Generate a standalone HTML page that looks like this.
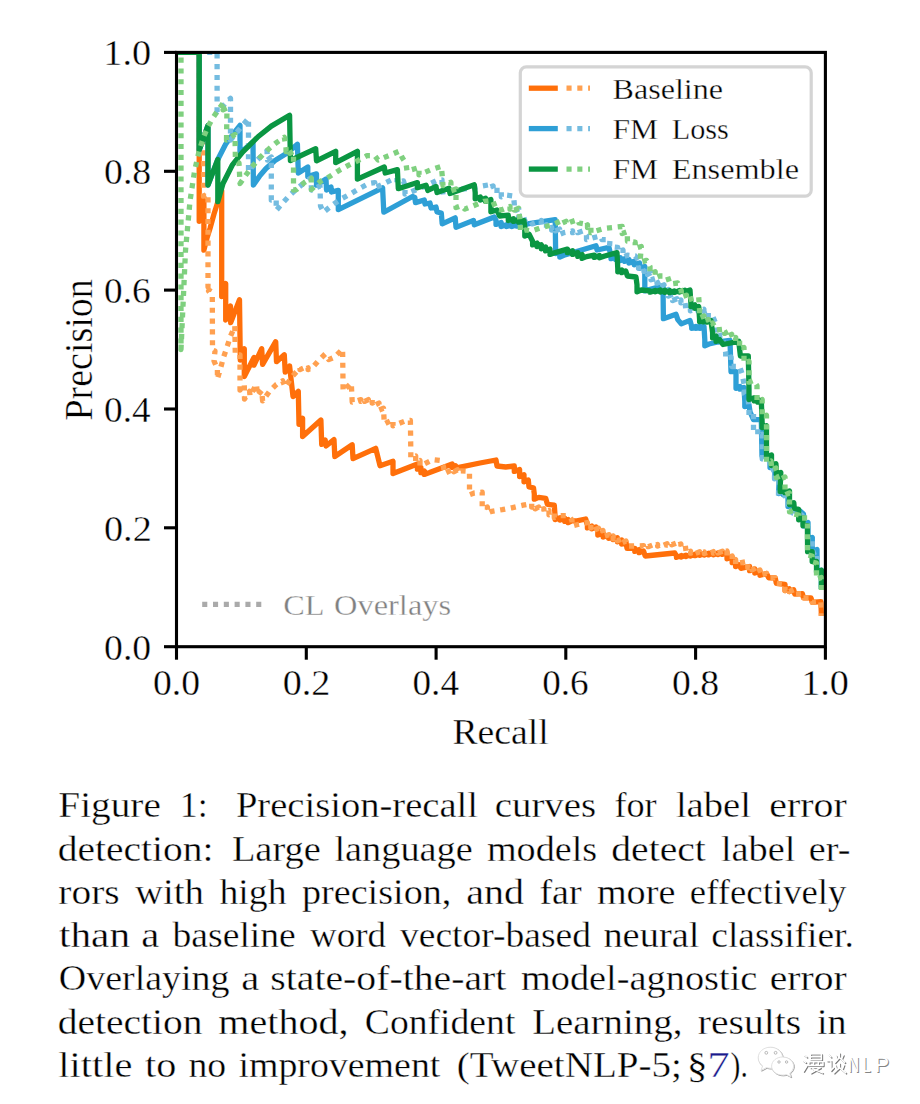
<!DOCTYPE html>
<html><head><meta charset="utf-8"><title>Figure 1</title>
<style>
html,body{margin:0;padding:0;background:#fff;}
body{width:920px;height:1104px;overflow:hidden;font-family:"Liberation Serif",serif;}
svg{display:block;}
svg text{font-family:"Liberation Serif",serif;stroke:#fff;stroke-width:0.35px;}
svg text.ss{font-family:"Liberation Sans",sans-serif;stroke:none;}
</style></head>
<body>
<svg width="920" height="1104" viewBox="0 0 920 1104">
<rect width="920" height="1104" fill="#fff"/>
<defs><clipPath id="ax"><rect x="176.5" y="52.4" width="648.9" height="594.3000000000001"/></clipPath></defs>
<g clip-path="url(#ax)" fill="none" stroke-width="5.3" stroke-linejoin="round" stroke-linecap="butt">
<path d="M176.5,52.4 L199.2,52.4 L199.2,221.3 L203.9,200.4 L203.9,250.2 L207.0,238.0 L210.0,228.5 L214.0,214.0 L217.8,202.0 L221.7,190.5 L221.7,296.5 L225.7,283.5 L225.7,320.0 L230.5,306.0 L230.7,322.6 L239.5,299.8 L240.3,360.0 L244.3,348.7 L244.3,376.5 L254.0,357.4 L254.0,365.2 L261.7,348.7 L262.6,364.3 L275.7,341.7 L276.5,361.7 L284.3,354.8 L285.2,372.2 L289.6,366.0 L293.0,396.5 L298.3,391.3 L299.0,424.3 L302.6,418.3 L302.6,436.5 L320.9,420.0 L321.7,444.3 L325.2,440.0 L326.0,446.0 L334.0,439.6 L334.8,456.5 L352.2,444.8 L353.0,458.7 L375.7,448.3 L377.4,455.2 L380.0,465.7 L393.0,461.3 L393.0,473.5 L417.4,464.0 L417.4,469.2 L420.9,467.4 L420.9,472.7 L424.3,470.9 L424.3,474.4 L429.6,472.6 L452.2,464.0 L452.2,467.5 L455.6,465.7 L455.6,469.2 L459.0,467.4 L480.0,463.0 L496.0,460.0 L497.0,466.0 L505.7,467.0 L514.3,466.0 L514.3,471.4 L519.6,469.6 L519.6,476.6 L524.0,474.8 L524.0,481.8 L528.3,480.0 L529.0,487.0 L533.5,487.8 L534.3,494.0 L534.3,499.2 L538.7,497.4 L545.7,498.3 L547.4,504.3 L554.3,505.2 L555.2,517.4 L555.2,519.6 L560.0,517.8 L560.0,520.1 L564.8,518.3 L564.8,521.4 L568.2,519.6 L568.2,522.7 L571.7,520.9 L577.0,520.9 L585.7,519.0 L587.4,525.2 L587.4,527.9 L591.7,526.1 L591.7,528.8 L596.0,527.0 L597.8,531.3 L597.8,535.0 L603.2,533.2 L603.2,537.0 L608.7,535.2 L608.7,538.3 L613.0,536.5 L613.0,539.6 L617.4,537.8 L617.4,541.8 L621.7,540.0 L621.7,544.0 L626.0,542.2 L627.0,548.3 L634.8,548.3 L634.8,551.4 L639.1,549.6 L639.1,552.7 L643.5,550.9 L645.2,556.0 L674.8,553.0 L676.5,556.0 L676.5,557.4 L681.1,555.6 L681.1,557.0 L685.8,555.2 L685.8,556.6 L690.4,554.8 L690.4,556.1 L695.0,554.3 L695.0,555.7 L699.7,553.9 L699.7,555.3 L704.3,553.5 L704.3,555.1 L708.8,553.3 L708.8,554.9 L713.4,553.1 L713.4,554.8 L717.9,553.0 L717.9,554.6 L722.5,552.8 L722.5,554.4 L727.0,552.6 L727.0,558.8 L732.2,557.0 L732.2,562.7 L735.6,560.9 L735.6,566.6 L739.0,564.8 L740.9,568.3 L749.6,566.5 L749.6,570.7 L754.8,568.9 L754.8,573.1 L760.0,571.3 L760.0,575.3 L766.5,573.5 L768.7,577.8 L775.2,577.8 L776.3,583.3 L785.0,584.3 L785.0,590.5 L789.3,588.7 L789.3,591.6 L793.7,589.8 L794.8,594.1 L802.4,593.6 L803.5,597.9 L811.0,597.9 L812.2,602.3 L820.9,601.7 L821.4,616.0" stroke="#ff6f0a"/>
<path d="M176.5,52.4 L199.2,52.4 L199.2,150.0 L203.5,135.0 L203.5,196.0 L208.0,194.0 L208.0,281.0 L208.0,286.8 L212.0,285.0 L208.5,291.0 L212.3,296.0 L212.5,350.0 L215.0,351.0 L214.0,361.0 L217.4,369.0 L217.4,379.0 L220.9,367.0 L223.5,357.4 L227.0,347.0 L230.4,336.5 L234.8,326.0 L235.3,355.0 L240.0,355.0 L240.0,390.0 L244.3,385.0 L244.5,399.0 L249.6,391.3 L250.0,396.0 L256.5,384.3 L257.4,395.7 L261.7,390.4 L262.6,400.9 L269.6,391.3 L276.5,384.3 L282.6,380.9 L285.2,387.0 L292.2,376.5 L300.0,367.8 L300.0,369.6 L304.1,367.8 L304.1,369.6 L308.1,367.8 L308.1,369.6 L312.2,367.8 L319.0,360.0 L325.2,354.0 L328.7,359.6 L334.8,357.0 L342.6,349.0 L343.1,391.0 L351.3,383.0 L352.2,402.2 L360.9,399.6 L360.9,401.4 L364.7,399.6 L364.7,401.4 L368.4,399.6 L368.4,401.4 L372.2,399.6 L372.2,403.1 L375.6,401.3 L375.6,404.8 L379.0,403.0 L379.0,410.1 L383.5,408.3 L384.3,424.0 L393.0,419.6 L393.0,425.8 L397.4,424.0 L404.3,421.3 L410.4,420.4 L410.8,451.7 L410.8,457.8 L415.7,456.0 L415.7,462.2 L420.0,460.4 L420.0,465.8 L424.3,464.0 L433.0,459.6 L440.0,460.4 L443.5,466.5 L444.3,473.5 L454.0,469.0 L454.0,471.8 L457.4,469.9 L457.4,472.7 L460.9,470.9 L467.4,471.3 L469.5,472.0 L469.5,489.6 L469.5,494.8 L474.3,493.0 L482.2,492.2 L482.2,501.7 L482.2,508.8 L487.4,507.0 L487.4,513.1 L491.7,511.3 L502.2,509.6 L511.7,507.8 L523.0,505.2 L531.7,503.5 L531.7,507.1 L535.2,505.2 L535.2,508.8 L538.7,507.0 L538.7,510.5 L543.9,508.7 L543.9,512.2 L549.0,510.4 L549.0,514.8 L554.3,513.0 L554.3,517.5 L559.6,515.7 L568.3,515.7 L572.0,520.0 L572.0,526.1 L578.7,524.3 L587.4,522.6 L587.4,526.1 L590.8,524.3 L590.8,527.8 L594.3,526.0 L594.3,530.0 L598.6,528.2 L598.6,532.2 L603.0,530.4 L603.0,536.6 L609.0,534.8 L609.0,537.7 L613.2,535.9 L613.2,538.8 L617.4,537.0 L617.4,540.8 L621.7,539.0 L621.7,542.8 L626.0,541.0 L627.0,546.0 L634.8,546.0 L643.5,545.7 L643.5,547.1 L648.2,545.3 L648.2,546.7 L652.9,544.9 L652.9,546.3 L657.6,544.5 L657.6,546.0 L662.4,544.2 L662.4,545.6 L667.1,543.8 L667.1,545.2 L671.8,543.4 L671.8,544.8 L676.5,543.0 L676.5,545.7 L680.9,543.9 L680.9,546.6 L685.2,544.8 L686.0,550.9 L686.0,553.0 L690.6,551.2 L690.6,553.2 L695.2,551.4 L695.2,553.5 L699.7,551.7 L699.7,553.8 L704.3,552.0 L704.3,553.6 L708.8,551.8 L708.8,553.4 L713.4,551.6 L713.4,553.2 L717.9,551.4 L717.9,553.0 L722.5,551.2 L722.5,552.8 L727.0,551.0 L727.0,557.8 L732.2,556.0 L732.2,561.3 L735.6,559.5 L735.6,564.8 L739.0,563.0 L747.8,561.3 L747.8,567.8 L752.0,566.0 L752.0,569.8 L756.0,568.0 L756.0,571.8 L760.0,570.0 L760.0,575.3 L766.5,573.5 L768.7,577.8 L775.2,577.8 L776.3,583.3 L785.0,584.3 L785.0,590.5 L789.3,588.7 L789.3,591.6 L793.7,589.8 L794.8,594.1 L802.4,593.6 L803.5,597.9 L811.0,597.9 L812.2,602.3 L820.9,601.7 L821.4,616.0" stroke="#ffa050" stroke-dasharray="5.1 5.7"/>
<path d="M176.5,52.4 L199.2,52.4 L199.2,150.0 L208.0,125.5 L208.0,185.0 L217.8,159.5 L225.6,144.3 L232.2,135.2 L240.0,125.4 L240.0,153.0 L253.0,142.0 L253.4,185.0 L260.0,175.5 L266.0,168.5 L275.0,160.5 L287.6,152.8 L297.4,144.2 L298.3,173.0 L307.8,167.0 L307.8,176.5 L316.5,173.9 L316.5,185.2 L326.0,179.1 L326.5,190.0 L331.0,187.0 L331.5,192.0 L338.3,190.4 L338.3,209.6 L382.6,187.8 L383.8,212.2 L412.5,196.5 L414.8,197.4 L415.5,202.6 L424.3,200.0 L425.0,204.0 L430.0,203.0 L431.0,208.0 L436.0,207.0 L437.0,212.0 L441.3,213.0 L442.2,223.9 L455.2,217.8 L456.0,227.4 L473.5,220.4 L474.3,224.8 L494.3,217.0 L496.0,220.4 L496.0,224.4 L501.2,222.6 L501.2,226.6 L506.5,224.8 L506.5,226.6 L511.8,224.8 L511.8,226.6 L517.0,224.8 L517.0,226.2 L522.2,224.4 L522.2,225.7 L527.4,223.9 L555.2,219.6 L555.6,248.3 L555.6,253.6 L559.8,251.8 L559.8,257.0 L563.9,255.2 L596.0,245.7 L597.0,250.0 L609.0,247.4 L611.0,256.0 L611.0,258.7 L615.7,256.9 L615.7,259.6 L620.4,257.8 L620.4,260.5 L624.7,258.7 L624.7,261.4 L629.0,259.6 L629.0,263.1 L634.3,261.3 L634.3,264.8 L639.6,263.0 L639.6,268.3 L644.8,266.5 L644.8,290.9 L663.0,285.7 L663.4,318.7 L676.0,314.3 L677.8,319.6 L681.3,323.9 L690.0,320.4 L691.7,326.5 L691.7,328.3 L695.8,326.5 L695.8,328.3 L699.9,326.5 L699.9,328.3 L704.0,326.5 L704.8,339.6 L704.8,345.8 L709.0,344.0 L717.8,342.0 L730.0,340.4 L731.0,371.7 L736.0,371.7 L736.0,385.7 L736.0,388.3 L740.0,386.5 L740.0,389.2 L744.0,387.4 L744.8,401.3 L744.8,406.6 L749.0,404.8 L750.0,411.7 L753.5,419.6 L761.3,419.6 L762.0,456.0 L766.0,457.0 L770.0,457.0 L770.0,464.6 L770.0,467.5 L774.4,465.7 L774.9,472.2 L774.9,476.2 L779.3,474.4 L778.7,490.7 L778.7,493.6 L783.4,491.8 L783.4,494.7 L788.0,492.9 L788.0,503.7 L788.0,506.6 L792.3,504.8 L792.8,510.3 L797.2,511.3 L800.0,511.0 L803.5,514.0 L803.5,521.0 L803.5,524.3 L808.0,522.5 L808.0,536.0 L808.0,539.3 L812.3,537.5 L812.3,548.0 L812.3,551.3 L817.0,549.5 L817.0,562.0 L817.0,572.0 L821.4,570.2 L821.4,589.0" stroke="#2e9fd6"/>
<path d="M176.5,52.4 L217.1,52.4 L217.1,112.0 L230.5,98.3 L230.5,140.0 L248.5,118.3 L248.5,171.5 L255.5,162.0 L263.7,153.4 L267.0,151.0 L267.5,160.0 L271.3,157.0 L271.3,200.0 L276.2,199.5 L276.2,210.4 L283.3,202.3 L290.3,194.7 L299.0,187.0 L307.8,180.0 L311.0,178.0 L311.5,190.0 L320.0,186.0 L320.5,206.0 L323.5,212.2 L332.2,205.2 L340.9,199.1 L350.4,193.9 L359.1,188.7 L368.7,183.5 L374.8,182.6 L374.8,187.8 L379.0,186.0 L391.3,180.0 L397.0,178.0 L397.0,182.7 L403.5,180.9 L405.0,186.0 L405.0,194.0 L410.4,192.2 L425.0,186.0 L438.0,180.0 L442.0,180.0 L442.0,192.0 L474.0,187.5 L489.1,184.8 L489.1,187.7 L493.1,185.9 L493.1,188.8 L497.0,187.0 L497.0,193.5 L501.3,191.7 L501.3,196.8 L505.6,195.0 L513.5,196.0 L514.3,203.9 L514.3,210.8 L518.7,209.0 L518.7,217.0 L523.9,215.2 L523.9,220.5 L529.1,218.7 L532.6,223.9 L541.3,220.4 L541.3,226.6 L546.5,224.8 L546.5,229.2 L551.7,227.4 L551.7,230.1 L555.7,228.2 L555.7,230.9 L559.6,229.1 L559.6,234.4 L563.9,232.6 L572.6,230.9 L572.6,232.7 L577.8,230.9 L577.8,232.7 L583.0,230.9 L586.5,235.2 L586.5,239.6 L592.6,237.8 L600.4,236.0 L602.0,239.6 L610.0,239.6 L609.5,246.5 L617.8,247.4 L617.8,251.8 L623.0,250.0 L623.0,257.0 L627.4,255.2 L635.2,256.0 L638.5,260.0 L638.5,268.3 L644.0,266.5 L644.0,271.4 L647.5,269.6 L647.5,274.4 L651.0,272.6 L651.0,279.8 L657.0,278.0 L657.0,283.2 L660.5,281.4 L660.5,286.6 L664.0,284.8 L664.0,291.4 L668.3,289.6 L668.3,296.1 L672.6,294.3 L672.6,300.5 L677.0,298.7 L677.0,301.7 L680.9,299.9 L680.9,302.8 L684.8,301.0 L685.7,308.3 L685.7,310.4 L690.4,308.6 L690.4,310.8 L695.0,309.0 L695.0,311.0 L699.4,309.2 L699.4,311.1 L703.9,309.3 L703.9,311.3 L708.3,309.5 L708.3,317.8 L712.6,316.0 L716.0,324.0 L716.0,336.8 L722.0,335.0 L725.7,352.6 L725.7,358.8 L731.0,357.0 L731.7,366.5 L739.6,366.5 L742.0,373.5 L744.0,384.0 L744.5,394.0 L748.3,399.6 L749.0,410.0 L749.0,415.3 L753.5,413.5 L753.5,424.8 L753.5,430.8 L757.8,429.0 L757.8,436.1 L762.2,434.3 L762.2,459.0 L766.0,460.0 L769.5,461.0 L769.8,467.0 L769.8,470.3 L774.0,468.5 L774.5,475.0 L774.5,478.8 L779.0,477.0 L778.5,493.0 L778.5,497.3 L784.0,495.5 L787.5,496.0 L787.8,506.5 L792.0,507.5 L792.5,513.0 L797.0,514.0 L800.0,514.0 L803.5,516.5 L803.5,523.0 L803.5,526.3 L808.0,524.5 L808.0,538.0 L808.0,541.3 L812.3,539.5 L812.3,550.0 L812.3,553.3 L817.0,551.5 L817.0,563.0 L817.0,572.8 L821.4,571.0 L821.4,589.0" stroke="#74bce0" stroke-dasharray="5.1 5.7" stroke-dashoffset="1.7"/>
<path d="M176.5,52.4 L199.2,52.4 L199.2,150.0 L208.0,125.5 L208.0,185.0 L217.8,159.5 L217.8,201.7 L223.0,183.5 L232.2,165.2 L242.6,152.2 L258.3,136.5 L271.3,126.1 L289.6,115.3 L290.4,160.5 L315.7,148.7 L316.5,160.9 L335.7,151.3 L335.7,162.6 L357.4,151.3 L357.4,179.1 L384.3,167.0 L385.2,173.0 L397.4,169.6 L398.3,188.7 L417.4,182.6 L417.4,187.8 L426.0,185.2 L427.8,190.4 L436.0,186.5 L437.0,192.6 L449.0,188.3 L450.0,193.5 L474.3,184.8 L475.2,192.6 L475.2,198.8 L480.4,197.0 L480.4,200.1 L485.6,198.3 L485.6,201.4 L490.9,199.6 L490.9,211.8 L497.0,210.0 L499.6,216.0 L508.3,215.2 L508.3,220.5 L513.5,218.7 L513.5,221.4 L518.7,219.6 L518.7,222.2 L523.9,220.4 L524.8,227.4 L524.8,236.1 L529.1,234.3 L532.6,241.3 L532.6,244.9 L537.0,243.1 L537.0,246.6 L541.3,244.8 L541.3,248.8 L545.6,246.9 L545.6,250.9 L550.0,249.1 L550.0,254.4 L555.2,252.6 L567.4,249.1 L567.4,252.7 L572.6,250.8 L572.6,254.4 L577.8,252.6 L577.8,256.4 L582.1,254.6 L582.1,258.4 L586.5,256.6 L594.3,255.2 L594.3,257.4 L599.5,255.6 L599.5,257.8 L604.8,256.0 L617.0,252.6 L617.8,269.1 L617.8,271.8 L621.8,270.0 L621.8,272.7 L625.7,270.9 L627.4,276.0 L636.0,277.0 L637.0,284.8 L637.0,291.8 L641.3,290.0 L650.0,290.9 L650.0,292.2 L655.2,290.4 L655.2,291.8 L660.4,290.0 L660.4,292.1 L665.0,290.3 L665.0,292.4 L669.7,290.6 L669.7,292.7 L674.3,290.9 L674.3,292.4 L679.5,290.6 L679.5,292.1 L684.8,290.3 L684.8,291.8 L690.0,290.0 L690.9,303.0 L690.9,306.6 L694.8,304.8 L694.8,308.3 L698.7,306.5 L699.6,319.6 L699.6,321.7 L703.4,319.9 L703.4,321.9 L707.1,320.1 L707.1,322.2 L710.9,320.4 L712.6,332.6 L712.6,337.9 L716.1,336.1 L716.1,341.4 L719.6,339.6 L723.0,344.5 L738.7,341.3 L740.4,356.0 L748.3,356.0 L749.0,389.0 L749.0,399.6 L754.3,397.8 L754.3,400.9 L757.8,399.1 L757.8,402.2 L761.3,400.4 L762.2,424.0 L762.2,427.5 L766.5,425.7 L766.5,453.9 L766.5,456.8 L771.5,455.0 L771.5,462.6 L771.5,465.5 L775.9,463.7 L776.4,470.2 L776.4,474.2 L780.8,472.4 L780.2,488.7 L780.2,491.6 L784.9,489.8 L784.9,492.7 L789.5,490.9 L789.5,501.7 L789.5,504.6 L793.8,502.8 L794.3,508.3 L798.7,509.3 L798.7,515.9 L798.7,519.8 L803.0,518.0 L803.0,525.7 L807.4,525.7 L807.6,551.7 L812.2,551.7 L812.2,561.5 L816.5,561.5 L816.5,569.0 L816.5,572.0 L821.4,570.2 L821.4,589.0" stroke="#0a9642"/>
<path d="M181.0,52.4 L181.0,349.5 L185.5,250.5 L190.0,201.0 L194.5,171.3 L199.0,151.5 L203.5,137.3 L208.0,126.7 L212.5,118.4 L217.0,111.8 L223.0,103.3 L223.0,109.8 L227.0,108.0 L226.5,140.0 L235.0,134.5 L235.4,160.0 L239.0,163.0 L240.0,183.5 L245.9,175.0 L252.4,166.5 L259.6,158.0 L267.4,150.2 L275.9,143.0 L284.3,137.2 L286.0,148.0 L286.0,151.6 L289.8,149.8 L289.8,153.3 L293.5,151.5 L293.5,190.0 L296.5,189.6 L304.3,182.6 L311.3,178.3 L311.3,189.6 L320.0,181.7 L329.6,176.5 L339.1,170.4 L348.7,165.2 L357.4,160.9 L367.0,155.7 L374.8,155.7 L378.0,160.0 L388.7,155.7 L399.1,151.3 L402.6,158.3 L406.0,163.5 L407.0,171.0 L414.0,169.0 L419.0,167.5 L419.0,174.8 L431.3,169.6 L441.3,166.5 L442.2,175.2 L443.0,185.7 L450.9,182.2 L450.9,190.9 L456.0,189.1 L456.0,199.6 L456.0,207.5 L461.3,205.7 L464.8,209.1 L473.5,205.7 L483.9,201.3 L492.6,200.4 L496.0,209.1 L501.3,210.0 L510.0,206.5 L510.0,209.2 L514.4,207.4 L514.4,210.1 L518.7,208.3 L519.6,217.0 L520.4,227.4 L520.4,231.8 L525.7,230.0 L531.7,230.9 L542.2,227.4 L552.6,224.8 L562.2,220.4 L562.2,223.1 L566.1,221.3 L566.1,224.0 L570.0,222.2 L577.8,219.6 L579.0,223.0 L584.0,223.9 L584.0,226.6 L587.5,224.8 L587.5,227.5 L590.9,225.7 L590.9,232.7 L596.0,230.9 L604.8,228.3 L613.5,227.4 L622.2,226.5 L622.2,233.5 L627.4,231.7 L627.4,241.3 L635.2,242.2 L635.2,248.3 L641.3,246.5 L640.4,257.8 L640.4,262.2 L646.5,260.4 L650.0,266.5 L650.0,273.5 L655.2,271.7 L655.2,277.8 L659.6,276.0 L667.4,276.0 L670.0,284.0 L677.8,283.0 L681.3,290.9 L681.3,297.0 L686.5,295.2 L686.5,300.5 L691.7,298.7 L698.7,297.0 L699.6,310.0 L699.6,317.8 L704.0,316.0 L704.0,321.3 L708.3,319.5 L708.3,324.8 L712.6,323.0 L716.0,330.0 L724.8,329.0 L724.8,333.4 L728.2,331.6 L728.2,336.1 L731.7,334.3 L731.7,339.2 L735.7,337.4 L735.7,342.2 L739.6,340.4 L739.6,349.2 L744.0,347.4 L744.0,358.7 L744.0,363.1 L749.0,361.3 L749.0,377.0 L749.0,382.2 L753.5,380.4 L757.0,385.7 L757.0,394.3 L757.0,401.4 L762.2,399.6 L762.2,411.7 L762.2,417.0 L766.5,415.2 L766.5,459.0 L766.5,462.8 L771.0,461.0 L771.5,466.0 L771.5,469.8 L776.0,468.0 L776.4,473.0 L776.4,477.5 L780.8,475.7 L780.8,478.8 L785.0,477.0 L785.0,491.0 L785.0,494.8 L789.5,493.0 L789.5,508.0 L789.5,511.8 L793.8,510.0 L793.8,514.0 L798.7,515.0 L798.7,518.0 L807.4,518.0 L807.6,555.0 L812.2,556.0 L812.2,562.0 L816.5,563.0 L816.5,576.0 L816.5,579.3 L821.4,577.5 L821.4,590.0" stroke="#7fd07f" stroke-dasharray="5.1 5.7" stroke-dashoffset="5.6"/>
</g>
<line x1="202.2" y1="604.4" x2="261.5" y2="604.4" stroke="#aaaaaa" stroke-width="5.3" stroke-dasharray="5.1 5.7"/>
<rect x="520.3" y="66.8" width="290.9" height="129.4" rx="6" ry="6" fill="#fff" stroke="#d4d4d4" stroke-width="3.2"/>
<g stroke-width="5.3" fill="none">
<line x1="528.8" y1="88.2" x2="557.8" y2="88.2" stroke="#ff6f0a"/>
<line x1="566.5" y1="88.2" x2="590" y2="88.2" stroke="#ffa050" stroke-dasharray="5.1 5.7"/>
<line x1="528.8" y1="128.6" x2="557.8" y2="128.6" stroke="#2e9fd6"/>
<line x1="566.5" y1="128.6" x2="590" y2="128.6" stroke="#74bce0" stroke-dasharray="5.1 5.7"/>
<line x1="528.8" y1="169.1" x2="557.8" y2="169.1" stroke="#0a9642"/>
<line x1="566.5" y1="169.1" x2="590" y2="169.1" stroke="#7fd07f" stroke-dasharray="5.1 5.7"/>
</g>
<g stroke="#000" stroke-width="3.1" fill="none" stroke-linecap="butt">
<line x1="164" y1="52.4" x2="176.5" y2="52.4"/><line x1="164" y1="171.3" x2="176.5" y2="171.3"/><line x1="164" y1="290.1" x2="176.5" y2="290.1"/><line x1="164" y1="409.0" x2="176.5" y2="409.0"/><line x1="164" y1="527.8" x2="176.5" y2="527.8"/><line x1="164" y1="646.7" x2="176.5" y2="646.7"/><line x1="176.5" y1="646.7" x2="176.5" y2="659.7"/><line x1="306.3" y1="646.7" x2="306.3" y2="659.7"/><line x1="436.1" y1="646.7" x2="436.1" y2="659.7"/><line x1="565.8" y1="646.7" x2="565.8" y2="659.7"/><line x1="695.6" y1="646.7" x2="695.6" y2="659.7"/><line x1="825.4" y1="646.7" x2="825.4" y2="659.7"/>
<rect x="176.5" y="52.4" width="648.9" height="594.3000000000001" stroke-linejoin="miter"/>
</g>
<text transform="translate(91.8,420.49) rotate(-90)" font-size="39" textLength="141.19" lengthAdjust="spacingAndGlyphs">Precision</text>
<text x="103.31" y="65.40" font-size="35.50" fill="#000" textLength="47.89" lengthAdjust="spacingAndGlyphs">1.0</text>
<text x="104.02" y="184.30" font-size="35.50" fill="#000" textLength="47.16" lengthAdjust="spacingAndGlyphs">0.8</text>
<text x="104.04" y="303.10" font-size="35.50" fill="#000" textLength="46.55" lengthAdjust="spacingAndGlyphs">0.6</text>
<text x="104.04" y="422.00" font-size="35.50" fill="#000" textLength="46.55" lengthAdjust="spacingAndGlyphs">0.4</text>
<text x="104.01" y="540.80" font-size="35.50" fill="#000" textLength="47.79" lengthAdjust="spacingAndGlyphs">0.2</text>
<text x="104.02" y="659.70" font-size="35.50" fill="#000" textLength="47.16" lengthAdjust="spacingAndGlyphs">0.0</text>
<text x="152.92" y="695.30" font-size="35.50" fill="#000" textLength="47.05" lengthAdjust="spacingAndGlyphs">0.0</text>
<text x="282.71" y="695.30" font-size="35.50" fill="#000" textLength="47.68" lengthAdjust="spacingAndGlyphs">0.2</text>
<text x="412.54" y="695.30" font-size="35.50" fill="#000" textLength="46.44" lengthAdjust="spacingAndGlyphs">0.4</text>
<text x="542.24" y="695.30" font-size="35.50" fill="#000" textLength="46.44" lengthAdjust="spacingAndGlyphs">0.6</text>
<text x="672.02" y="695.30" font-size="35.50" fill="#000" textLength="47.05" lengthAdjust="spacingAndGlyphs">0.8</text>
<text x="801.22" y="695.30" font-size="35.50" fill="#000" textLength="47.67" lengthAdjust="spacingAndGlyphs">1.0</text>
<text x="452.41" y="743.80" font-size="36.00" fill="#000" textLength="96.35" lengthAdjust="spacingAndGlyphs">Recall</text>
<text x="612.50" y="98.70" font-size="29.00" fill="#000" textLength="110.61" lengthAdjust="spacingAndGlyphs">Baseline</text>
<text x="612.51" y="139.00" font-size="29.00" fill="#000" textLength="45.74" lengthAdjust="spacingAndGlyphs">FM</text>
<text x="671.73" y="139.00" font-size="29.00" fill="#000" textLength="57.17" lengthAdjust="spacingAndGlyphs">Loss</text>
<text x="612.51" y="179.30" font-size="29.00" fill="#000" textLength="45.74" lengthAdjust="spacingAndGlyphs">FM</text>
<text x="671.70" y="179.30" font-size="29.00" fill="#000" textLength="127.41" lengthAdjust="spacingAndGlyphs">Ensemble</text>
<text x="283.29" y="615.00" font-size="29.00" fill="#808080" textLength="41.27" lengthAdjust="spacingAndGlyphs">CL</text>
<text x="333.99" y="615.00" font-size="29.00" fill="#808080" textLength="117.18" lengthAdjust="spacingAndGlyphs">Overlays</text>
<text x="58.39" y="817.00" font-size="35.50" fill="#000" textLength="102.48" lengthAdjust="spacingAndGlyphs">Figure</text>
<text x="179.69" y="817.00" font-size="35.50" fill="#000" textLength="28.00" lengthAdjust="spacingAndGlyphs">1:</text>
<text x="235.90" y="817.00" font-size="35.50" fill="#000" textLength="242.07" lengthAdjust="spacingAndGlyphs">Precision-recall</text>
<text x="494.79" y="817.00" font-size="35.50" fill="#000" textLength="101.37" lengthAdjust="spacingAndGlyphs">curves</text>
<text x="614.43" y="817.00" font-size="35.50" fill="#000" textLength="42.24" lengthAdjust="spacingAndGlyphs">for</text>
<text x="675.90" y="817.00" font-size="35.50" fill="#000" textLength="75.08" lengthAdjust="spacingAndGlyphs">label</text>
<text x="769.25" y="817.00" font-size="35.50" fill="#000" textLength="77.44" lengthAdjust="spacingAndGlyphs">error</text>
<text x="57.77" y="860.50" font-size="35.50" fill="#000" textLength="155.68" lengthAdjust="spacingAndGlyphs">detection:</text>
<text x="231.90" y="860.50" font-size="35.50" fill="#000" textLength="88.95" lengthAdjust="spacingAndGlyphs">Large</text>
<text x="334.40" y="860.50" font-size="35.50" fill="#000" textLength="138.44" lengthAdjust="spacingAndGlyphs">language</text>
<text x="486.90" y="860.50" font-size="35.50" fill="#000" textLength="110.23" lengthAdjust="spacingAndGlyphs">models</text>
<text x="611.26" y="860.50" font-size="35.50" fill="#000" textLength="94.60" lengthAdjust="spacingAndGlyphs">detect</text>
<text x="720.90" y="860.50" font-size="35.50" fill="#000" textLength="74.57" lengthAdjust="spacingAndGlyphs">label</text>
<text x="808.81" y="860.50" font-size="35.50" fill="#000" textLength="41.57" lengthAdjust="spacingAndGlyphs">er-</text>
<text x="58.38" y="903.70" font-size="35.50" fill="#000" textLength="61.29" lengthAdjust="spacingAndGlyphs">rors</text>
<text x="135.00" y="903.70" font-size="35.50" fill="#000" textLength="69.00" lengthAdjust="spacingAndGlyphs">with</text>
<text x="219.50" y="903.70" font-size="35.50" fill="#000" textLength="67.00" lengthAdjust="spacingAndGlyphs">high</text>
<text x="301.90" y="903.70" font-size="35.50" fill="#000" textLength="149.48" lengthAdjust="spacingAndGlyphs">precision,</text>
<text x="466.25" y="903.70" font-size="35.50" fill="#000" textLength="57.75" lengthAdjust="spacingAndGlyphs">and</text>
<text x="539.40" y="903.70" font-size="35.50" fill="#000" textLength="42.28" lengthAdjust="spacingAndGlyphs">far</text>
<text x="596.90" y="903.70" font-size="35.50" fill="#000" textLength="78.44" lengthAdjust="spacingAndGlyphs">more</text>
<text x="689.85" y="903.70" font-size="35.50" fill="#000" textLength="156.65" lengthAdjust="spacingAndGlyphs">effectively</text>
<text x="59.00" y="947.00" font-size="35.50" fill="#000" textLength="71.00" lengthAdjust="spacingAndGlyphs">than</text>
<text x="141.23" y="947.00" font-size="35.50" fill="#000" textLength="18.03" lengthAdjust="spacingAndGlyphs">a</text>
<text x="172.50" y="947.00" font-size="35.50" fill="#000" textLength="123.33" lengthAdjust="spacingAndGlyphs">baseline</text>
<text x="310.00" y="947.00" font-size="35.50" fill="#000" textLength="76.00" lengthAdjust="spacingAndGlyphs">word</text>
<text x="400.00" y="947.00" font-size="35.50" fill="#000" textLength="191.00" lengthAdjust="spacingAndGlyphs">vector-based</text>
<text x="603.40" y="947.00" font-size="35.50" fill="#000" textLength="96.07" lengthAdjust="spacingAndGlyphs">neural</text>
<text x="711.33" y="947.00" font-size="35.50" fill="#000" textLength="142.51" lengthAdjust="spacingAndGlyphs">classifier.</text>
<text x="58.81" y="990.30" font-size="35.50" fill="#000" textLength="170.78" lengthAdjust="spacingAndGlyphs">Overlaying</text>
<text x="241.23" y="990.30" font-size="35.50" fill="#000" textLength="18.03" lengthAdjust="spacingAndGlyphs">a</text>
<text x="270.26" y="990.30" font-size="35.50" fill="#000" textLength="236.11" lengthAdjust="spacingAndGlyphs">state-of-the-art</text>
<text x="520.90" y="990.30" font-size="35.50" fill="#000" textLength="236.44" lengthAdjust="spacingAndGlyphs">model-agnostic</text>
<text x="769.76" y="990.30" font-size="35.50" fill="#000" textLength="76.93" lengthAdjust="spacingAndGlyphs">error</text>
<text x="57.77" y="1033.50" font-size="35.50" fill="#000" textLength="144.73" lengthAdjust="spacingAndGlyphs">detection</text>
<text x="218.37" y="1033.50" font-size="35.50" fill="#000" textLength="130.13" lengthAdjust="spacingAndGlyphs">method,</text>
<text x="364.82" y="1033.50" font-size="35.50" fill="#000" textLength="150.55" lengthAdjust="spacingAndGlyphs">Confident</text>
<text x="532.39" y="1033.50" font-size="35.50" fill="#000" textLength="150.04" lengthAdjust="spacingAndGlyphs">Learning,</text>
<text x="697.88" y="1033.50" font-size="35.50" fill="#000" textLength="103.30" lengthAdjust="spacingAndGlyphs">results</text>
<text x="816.91" y="1033.50" font-size="35.50" fill="#000" textLength="29.59" lengthAdjust="spacingAndGlyphs">in</text>
<text x="58.37" y="1076.80" font-size="35.50" fill="#000" textLength="74.02" lengthAdjust="spacingAndGlyphs">little</text>
<text x="145.00" y="1076.80" font-size="35.50" fill="#000" textLength="31.26" lengthAdjust="spacingAndGlyphs">to</text>
<text x="188.41" y="1076.80" font-size="35.50" fill="#000" textLength="37.77" lengthAdjust="spacingAndGlyphs">no</text>
<text x="238.41" y="1076.80" font-size="35.50" fill="#000" textLength="201.96" lengthAdjust="spacingAndGlyphs">improvement</text>
<text x="456.78" y="1076.80" font-size="35.50" fill="#000" textLength="225.14" lengthAdjust="spacingAndGlyphs">(TweetNLP-5;</text>
<text x="686.74" y="1076.80" font-size="35.50" fill="#000" textLength="20.87" lengthAdjust="spacingAndGlyphs">§</text>
<text x="707.19" y="1076.80" font-size="35.50" fill="#1a1a8c" textLength="22.52" lengthAdjust="spacingAndGlyphs">7</text>
<text x="730.57" y="1076.80" font-size="35.50" fill="#000" textLength="17.28" lengthAdjust="spacingAndGlyphs">).</text>
<text x="849.32" y="1072.70" font-size="21.60" fill="#858585" class="ss" textLength="10.91" lengthAdjust="spacingAndGlyphs">N</text>
<text x="864.03" y="1072.70" font-size="21.60" fill="#858585" class="ss" textLength="7.61" lengthAdjust="spacingAndGlyphs">L</text>
<text x="875.71" y="1072.70" font-size="21.60" fill="#858585" class="ss" textLength="14.39" lengthAdjust="spacingAndGlyphs">P</text>
<text x="848.32" y="1071.70" font-size="21.60" fill="#ffffff" class="ss" textLength="10.91" lengthAdjust="spacingAndGlyphs">N</text>
<text x="863.03" y="1071.70" font-size="21.60" fill="#ffffff" class="ss" textLength="7.61" lengthAdjust="spacingAndGlyphs">L</text>
<text x="874.71" y="1071.70" font-size="21.60" fill="#ffffff" class="ss" textLength="14.39" lengthAdjust="spacingAndGlyphs">P</text>
<g fill="#fff" stroke="#9c9c9c" stroke-width="1" transform="translate(0.7,0.7)"><path d="M770.4,1047.2 c-6.8,0 -12.2,4.7 -12.2,10.6 c0,3.3 1.7,6.2 4.4,8.1 l-1.6,4.6 l5.4,-2.9 c1.3,0.4 2.6,0.7 4,0.7 c6.8,0 12.2,-4.7 12.2,-10.6 c0,-5.8 -5.4,-10.5 -12.2,-10.5 z"/><path d="M782.6,1057 c6.1,0 11,4.1 11,9.1 c0,2.8 -1.5,5.3 -3.9,7 l1.3,3.9 l-4.7,-2.4 c-1.2,0.3 -2.4,0.5 -3.7,0.5 c-6.1,0 -11,-4 -11,-9 c0,-5 4.9,-9.1 11,-9.1 z"/></g>
<g fill="#fff" stroke="#dedede" stroke-width="0.9"><path d="M770.4,1047.2 c-6.8,0 -12.2,4.7 -12.2,10.6 c0,3.3 1.7,6.2 4.4,8.1 l-1.6,4.6 l5.4,-2.9 c1.3,0.4 2.6,0.7 4,0.7 c6.8,0 12.2,-4.7 12.2,-10.6 c0,-5.8 -5.4,-10.5 -12.2,-10.5 z"/><path d="M782.6,1057 c6.1,0 11,4.1 11,9.1 c0,2.8 -1.5,5.3 -3.9,7 l1.3,3.9 l-4.7,-2.4 c-1.2,0.3 -2.4,0.5 -3.7,0.5 c-6.1,0 -11,-4 -11,-9 c0,-5 4.9,-9.1 11,-9.1 z"/></g>
<g fill="#fff" stroke="#a8a8a8" stroke-width="0.8"><circle cx="766.3" cy="1052.8" r="1.4"/><circle cx="775.6" cy="1052.8" r="1.4"/><circle cx="779" cy="1062" r="1.2"/><circle cx="786.6" cy="1062" r="1.2"/></g>
<g transform="translate(1.0,1.0)" fill="none" stroke="#7c7c7c" stroke-width="1.4" stroke-linecap="round" stroke-linejoin="round"><path transform="translate(802.5,1052.3) scale(1.050,1.050)" d="M1.5,2.5 L4,4.5 M0.5,7.8 L3,9.6 M1,18 L4.6,12 M7.5,1.5 H18 V7 H7.5 Z M7.5,4.2 H18 M6,9 H19.5 V12.5 H6 Z M10.5,9 V12.5 M15,9 V12.5 M7.5,14.6 H17 L8,19.6 M9.8,15.8 L19,19.6"/><path transform="translate(826.5,1052.3) scale(0.980,1.050)" d="M2,2 L4.5,4.5 M0.5,8 H4.5 V17.3 L7,14.6 M9.5,3 L10.5,5.6 M17,2.5 L15.6,5.6 M13.2,0.8 V5 L8.5,9.6 M13.2,5 L18.6,9.6 M9,12.4 L10,15.6 M17.6,12 L16.2,15.6 M13.2,10.6 V14.6 L7.5,19.6 M13.2,14.6 L19.6,19.6"/></g>
<g transform="translate(0.0,0.0)" fill="none" stroke="#ffffff" stroke-width="1.4" stroke-linecap="round" stroke-linejoin="round"><path transform="translate(802.5,1052.3) scale(1.050,1.050)" d="M1.5,2.5 L4,4.5 M0.5,7.8 L3,9.6 M1,18 L4.6,12 M7.5,1.5 H18 V7 H7.5 Z M7.5,4.2 H18 M6,9 H19.5 V12.5 H6 Z M10.5,9 V12.5 M15,9 V12.5 M7.5,14.6 H17 L8,19.6 M9.8,15.8 L19,19.6"/><path transform="translate(826.5,1052.3) scale(0.980,1.050)" d="M2,2 L4.5,4.5 M0.5,8 H4.5 V17.3 L7,14.6 M9.5,3 L10.5,5.6 M17,2.5 L15.6,5.6 M13.2,0.8 V5 L8.5,9.6 M13.2,5 L18.6,9.6 M9,12.4 L10,15.6 M17.6,12 L16.2,15.6 M13.2,10.6 V14.6 L7.5,19.6 M13.2,14.6 L19.6,19.6"/></g>

</svg>
</body></html>
